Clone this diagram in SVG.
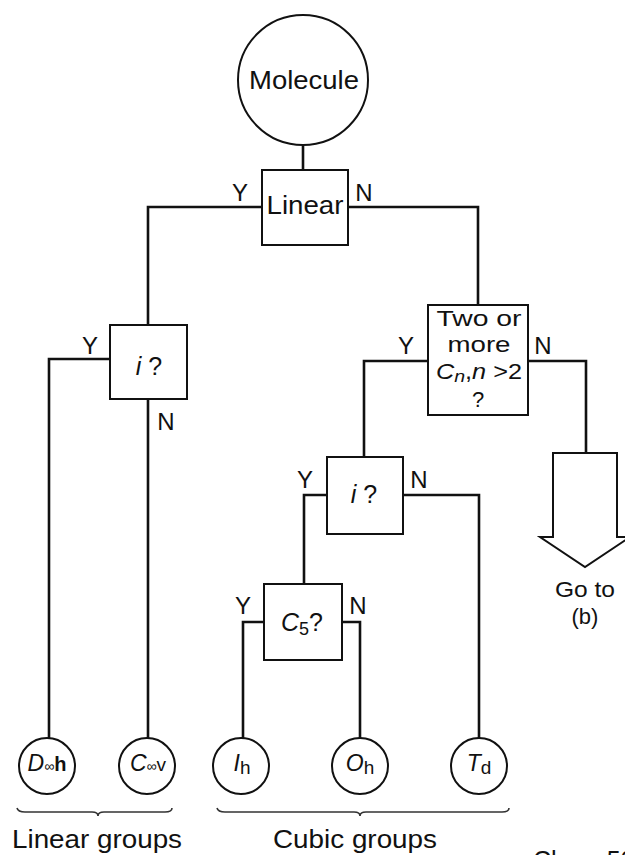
<svg xmlns="http://www.w3.org/2000/svg" width="625" height="855" viewBox="0 0 625 855">
<style>
.shape{fill:#fff;stroke:#111;stroke-width:2}
.wire{fill:none;stroke:#111;stroke-width:2.6;stroke-linejoin:miter}
.brace{fill:none;stroke:#333;stroke-width:1.6}
text{font-family:"Liberation Sans",Arial,sans-serif;fill:#111}
.lbl{font-size:25px;text-anchor:middle}
.sm{font-size:22px;text-anchor:middle}
.yn{font-size:24px;text-anchor:middle}
.it{font-style:italic}
</style>
<rect width="625" height="855" fill="#fff"/>
<g id="connectors">
<path class="wire" d="M303,146 V170"/>
<path class="wire" d="M262,207 H148 V325"/>
<path class="wire" d="M348,207 H478 V305"/>
<path class="wire" d="M110,359 H49 V739"/>
<path class="wire" d="M148,399 V739"/>
<path class="wire" d="M428,361 H364 V457"/>
<path class="wire" d="M528,361 H586 V453"/>
<path class="wire" d="M327,495 H304 V584"/>
<path class="wire" d="M403,495 H479 V739"/>
<path class="wire" d="M264,622 H243 V739"/>
<path class="wire" d="M342,622 H360 V739"/>
<g id="edge-labels">
<text class="yn" x="240" y="201">Y</text>
<text class="yn" x="364" y="201">N</text>
<text class="yn" x="90" y="354">Y</text>
<text class="yn" x="166" y="430">N</text>
<text class="yn" x="406" y="354">Y</text>
<text class="yn" x="543" y="354">N</text>
<text class="yn" x="305" y="488">Y</text>
<text class="yn" x="419" y="488">N</text>
<text class="yn" x="243" y="614">Y</text>
<text class="yn" x="358" y="614">N</text>
</g>
</g>
<g id="molecule">
<circle class="shape" cx="303" cy="80" r="65"/>
<text class="lbl" x="304" y="89" textLength="110" lengthAdjust="spacingAndGlyphs">Molecule</text>
</g>
<g id="linear">
<rect class="shape" x="262" y="170" width="86" height="75"/>
<text class="lbl" x="305" y="214" textLength="77" lengthAdjust="spacingAndGlyphs">Linear</text>
</g>
<g id="i-left">
<rect class="shape" x="110" y="325" width="77" height="74"/>
<text class="lbl" x="149" y="375"><tspan class="it">i</tspan> ?</text>
</g>
<g id="two-or-more">
<rect class="shape" x="428" y="305" width="100" height="110"/>
<text class="sm" x="479" y="326" textLength="85" lengthAdjust="spacingAndGlyphs">Two or</text>
<text class="sm" x="479" y="352" textLength="63" lengthAdjust="spacingAndGlyphs">more</text>
<text class="sm" x="479" y="379" textLength="86" lengthAdjust="spacingAndGlyphs"><tspan class="it">C</tspan><tspan class="it" font-size="17" dy="3">n</tspan><tspan dy="-3">,</tspan><tspan class="it">n</tspan> &gt;2</text>
<text class="sm" x="478" y="407">?</text>
</g>
<g id="i-mid">
<rect class="shape" x="327" y="457" width="76" height="77"/>
<text class="lbl" x="364" y="503"><tspan class="it">i</tspan> ?</text>
</g>
<g id="c5">
<rect class="shape" x="264" y="584" width="78" height="76"/>
<text class="lbl" x="302" y="631"><tspan class="it">C</tspan><tspan font-size="18" dy="4">5</tspan><tspan dy="-4">?</tspan></text>
</g>
<g id="go-to-b">
<polygon class="shape" points="553,453 617,453 617,537 630,537 585,567 540,537 553,537"/>
<text class="sm" x="585" y="597" textLength="60" lengthAdjust="spacingAndGlyphs">Go to</text>
<text class="sm" x="585" y="624">(b)</text>
</g>
<g id="d-inf-h">
<circle class="shape" cx="47" cy="766" r="28"/>
<text x="47" y="771" text-anchor="middle" font-size="23"><tspan class="it">D</tspan><tspan font-size="14">∞</tspan><tspan font-size="20" font-weight="bold">h</tspan></text>
</g>
<g id="c-inf-v">
<circle class="shape" cx="147" cy="766" r="28"/>
<text x="148" y="771" text-anchor="middle" font-size="23"><tspan class="it">C</tspan><tspan font-size="14">∞</tspan><tspan font-size="19">v</tspan></text>
</g>
<g id="ih">
<circle class="shape" cx="241" cy="766" r="28"/>
<text x="242" y="771" text-anchor="middle" font-size="23"><tspan class="it">I</tspan><tspan font-size="19" dy="3">h</tspan></text>
</g>
<g id="oh">
<circle class="shape" cx="360" cy="766" r="28"/>
<text x="360" y="771" text-anchor="middle" font-size="23"><tspan class="it">O</tspan><tspan font-size="19" dy="3">h</tspan></text>
</g>
<g id="td">
<circle class="shape" cx="479" cy="766" r="28"/>
<text x="479" y="771" text-anchor="middle" font-size="23"><tspan class="it">T</tspan><tspan font-size="19" dy="3">d</tspan></text>
</g>
<g id="linear-groups">
<path class="brace" d="M17,808 Q18,812 25,812 L92,812 Q98,812 98,816 Q98,812 104,812 L165,812 Q172,812 172,808"/>
<text x="97" y="848" text-anchor="middle" font-size="25" textLength="170" lengthAdjust="spacingAndGlyphs">Linear groups</text>
</g>
<g id="cubic-groups">
<path class="brace" d="M217,808 Q218,812 225,812 L354,812 Q360,812 360,816 Q360,812 366,812 L502,812 Q509,812 509,808"/>
<text x="355" y="848" text-anchor="middle" font-size="25" textLength="164" lengthAdjust="spacingAndGlyphs">Cubic groups</text>
</g>
<text x="533" y="869" font-size="25">Chem 50</text>
</svg>
